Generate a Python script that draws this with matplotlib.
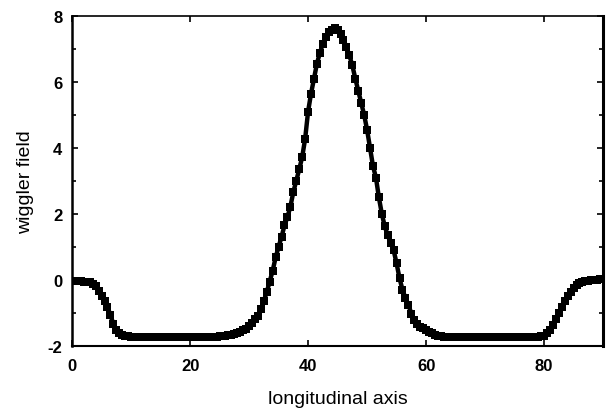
import numpy as np
import matplotlib.pyplot as plt

plt.rcParams['font.family'] = ['Liberation Sans', 'DejaVu Sans']
plt.rcParams['axes.unicode_minus'] = False

# positions along the axis, step of 0.5
z_pos = np.arange(0, 90.5, 0.5)

# wiggler field, one value per 0.5 step
field = [
    -0.03, -0.03, -0.04, -0.04, -0.05, -0.05, -0.07, -0.12, -0.20, -0.33,   # 0 - 4.5
    -0.48, -0.63, -0.81, -1.08, -1.33, -1.52, -1.62, -1.67, -1.70, -1.71,   # 5 - 9.5
    -1.72, -1.72, -1.72, -1.72, -1.72, -1.72, -1.72, -1.72, -1.72, -1.72,   # 10 - 14.5
    -1.72, -1.72, -1.72, -1.72, -1.72, -1.72, -1.72, -1.72, -1.72, -1.72,   # 15 - 19.5
    -1.72, -1.72, -1.72, -1.72, -1.72, -1.72, -1.72, -1.72, -1.72, -1.72,   # 20 - 24.5
    -1.71, -1.70, -1.69, -1.68, -1.66, -1.64, -1.61, -1.58, -1.53, -1.48,   # 25 - 29.5
    -1.40, -1.32, -1.20, -1.10, -0.88, -0.64, -0.37, -0.05, 0.28, 0.68,     # 30 - 34.5
    1.00, 1.30, 1.65, 1.90, 2.22, 2.66, 3.00, 3.35, 3.72, 4.27,             # 35 - 39.5
    5.10, 5.64, 6.10, 6.55, 6.88, 7.15, 7.35, 7.50, 7.58, 7.62,             # 40 - 44.5
    7.58, 7.45, 7.28, 7.05, 6.80, 6.50, 6.10, 5.73, 5.35, 5.00,             # 45 - 49.5
    4.55, 4.00, 3.45, 3.10, 2.50, 2.00, 1.62, 1.35, 1.12, 0.90,             # 50 - 54.5
    0.50, 0.05, -0.30, -0.55, -0.75, -1.02, -1.22, -1.35, -1.42, -1.47,     # 55 - 59.5
    -1.52, -1.58, -1.62, -1.66, -1.69, -1.71, -1.72, -1.72, -1.72, -1.72,   # 60 - 64.5
    -1.72, -1.72, -1.72, -1.72, -1.72, -1.72, -1.72, -1.72, -1.72, -1.72,   # 65 - 69.5
    -1.72, -1.72, -1.72, -1.72, -1.72, -1.72, -1.72, -1.72, -1.72, -1.72,   # 70 - 74.5
    -1.72, -1.72, -1.72, -1.72, -1.72, -1.72, -1.72, -1.72, -1.72, -1.71,   # 75 - 79.5
    -1.70, -1.62, -1.52, -1.38, -1.20, -1.00, -0.82, -0.65, -0.50, -0.37,   # 80 - 84.5
    -0.26, -0.16, -0.09, -0.05, -0.03, -0.02, -0.01, 0.00, 0.01, 0.02,      # 85 - 89.5
    0.03,                                                                   # 90
]

x_ticks = [0, 20, 40, 60, 80]
y_ticks = [-2, 0, 2, 4, 6, 8]

fig = plt.figure(figsize=(6.11, 4.10), dpi=100)
ax = fig.add_axes([0.118, 0.154, 0.869, 0.805])

ax.plot(z_pos, field, color='black', linewidth=3.2,
        marker='s', markersize=6, markeredgewidth=0)

ax.set_xlim(0, 90)
ax.set_ylim(-2, 8)
ax.set_xticks(x_ticks)
ax.set_yticks(y_ticks)
ax.set_yticks(np.arange(-1, 8, 2), minor=True)
ax.tick_params(axis='both', which='both', direction='in', top=True, right=True,
               labelsize=12, length=4, width=1.2)
ax.tick_params(axis='x', pad=9)
ax.tick_params(axis='y', pad=7)
ax.tick_params(axis='both', which='minor', length=3)
for lab in ax.get_xticklabels() + ax.get_yticklabels():
    lab.set_fontweight('bold')

for side, lw in [('left', 1.8), ('bottom', 1.5), ('top', 1.2), ('right', 2.2)]:
    ax.spines[side].set_linewidth(lw)

ax.set_xlabel('longitudinal axis', fontsize=14, labelpad=12)
ax.set_ylabel('wiggler field', fontsize=14, labelpad=10)

fig.savefig('out.png', dpi=100)
